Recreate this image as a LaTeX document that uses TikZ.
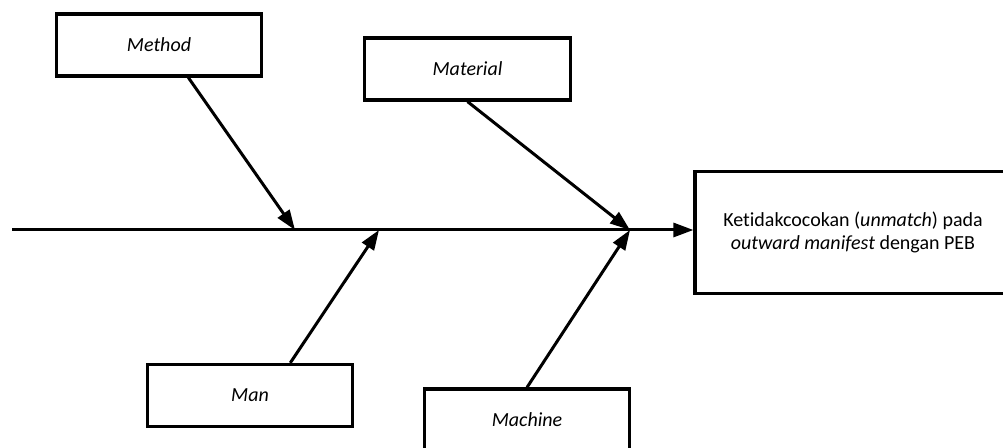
\documentclass[tikz,border=0pt]{standalone}
\usepackage{fontspec}
\setmainfont{Carlito}[Ligatures=NoCommon]
\usetikzlibrary{arrows.meta}

\begin{document}
\begin{tikzpicture}[x=0.75pt,y=-0.75pt,
    causebox/.style={draw,line width=2.4pt,fill=white,minimum width=154pt,minimum height=46.5pt,
        font=\fontsize{15}{17.5}\selectfont\itshape,inner sep=0pt},
    effectbox/.style={draw,line width=2.4pt,fill=white,minimum width=237pt,minimum height=91pt,
        font=\fontsize{15}{17.5}\selectfont,align=center,inner sep=0pt},
    bone/.style={line width=2.25pt,-{Triangle[length=15pt,width=10.5pt]}}]
    \useasboundingbox (0,0) rectangle (1003,448);

    % Cause boxes
    \node[causebox] (method) at (159,45) {Method};
    \node[causebox] (material) at (467.5,69) {Material};
    \node[causebox] (man) at (250,395.5) {Man};
    \node[causebox] (machine) at (527,420) {Machine};

    % Effect box
    \node[effectbox] (effect) at (853,232.5) {Ketidakcocokan (\textit{unmatch}) pada\\\textit{outward manifest} dengan PEB};

    % Spine
    \coordinate (tail) at (12,230);
    \coordinate (j1) at (295,230);
    \coordinate (j2) at (379,230);
    \coordinate (j3) at (630,230);
    \draw[bone] (tail) -- (tail -| effect.west);

    % Causes
    \draw[bone] (method.-48) -- (j1);
    \draw[bone] (man.39) -- (j2);
    \draw[bone] (material.south) -- (j3);
    \draw[bone] (machine.north) -- (j3);
\end{tikzpicture}
\end{document}
